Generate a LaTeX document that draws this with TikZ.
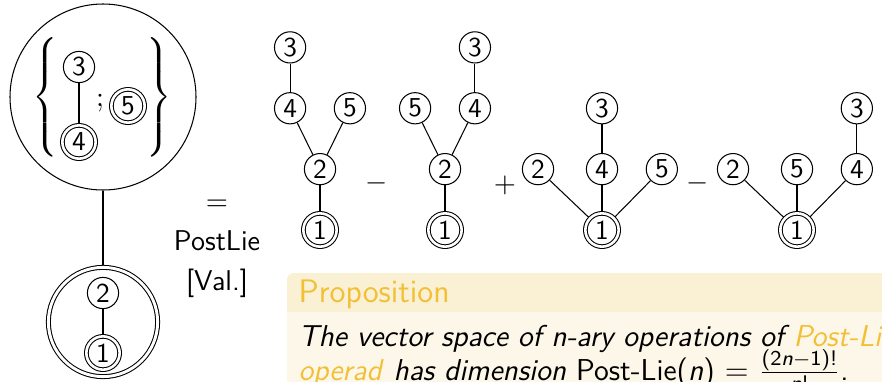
\documentclass[tikz,border=0pt]{standalone}
\usepackage{amsmath}
\usepackage{tikz}
\usetikzlibrary{positioning,backgrounds}
\renewcommand{\familydefault}{\sfdefault}
\definecolor{blocktitle}{RGB}{242,192,54}
\definecolor{blocktitlebg}{RGB}{250,240,212}
\definecolor{blockbodybg}{RGB}{253,247,234}

\begin{document}
\begin{tikzpicture}[
    x=0.3844pt, y=-0.3844pt,
    font=\fontsize{11}{13.5}\selectfont,
    node distance=23.4pt and 11.5pt, on grid,
    vtx/.style={circle, draw, inner sep=0pt, minimum size=12pt, font=\fontsize{10.5}{12}\selectfont},
    rootvtx/.style={vtx, double, double distance=1pt, minimum size=12.8pt}
]
\useasboundingbox (0,0) rectangle (882,381);
\clip (0,0) rectangle (882,381);

% grafted element on the left
\node[circle, draw, minimum size=71.5pt] (grp) at (103,97) {};
\node (lbr) at (47,97) {$\left\{\vrule height 26.5pt depth 20.7pt width 0pt\right.$};
\node (rbr) at (158,97) {$\left.\vrule height 26.5pt depth 20.7pt width 0pt\right\}$};
\node[vtx] (g3) at (79,67) {3};
\node[rootvtx] (g4) at (79,142) {4};
\node (semi) at (100,103) {$;$};
\node[rootvtx] (g5) at (128,106) {5};
\node[circle, draw, double, double distance=1.1pt, minimum size=42pt] (low) at (103,322) {};
\node[vtx] (l2) at (103,293) {2};
\node[rootvtx] (l1) at (103,353) {1};

\node[align=center, font=\fontsize{11}{15.4}\selectfont] (lbl) at (217,249) {$=$\\PostLie\\{[}Val.{]}};

% first tree
\node[rootvtx] (a1) at (320,230) {1};
\node[vtx, above=of a1] (a2) {2};
\node[vtx, above left=of a2] (a4) {4};
\node[vtx, above right=of a2] (a5) {5};
\node[vtx, above=of a4] (a3) {3};
\node (minusa) at (377,183) {$-$};

% second tree
\node[rootvtx] (b1) at (445,230) {1};
\node[vtx, above=of b1] (b2) {2};
\node[vtx, above left=of b2] (b5) {5};
\node[vtx, above right=of b2] (b4) {4};
\node[vtx, above=of b4] (b3) {3};
\node (plusa) at (505,185) {$+$};

% third tree
\node[rootvtx] (c1) at (602,230) {1};
\node[vtx, above=of c1] (c4) {4};
\node[vtx, above=of c4] (c3) {3};
\node[vtx, above left=23.4pt and 24.6pt of c1] (c2) {2};
\node[vtx, above right=23.4pt and 23pt of c1] (c5) {5};
\node (minusb) at (698,183) {$-$};

% fourth tree
\node[rootvtx] (d1) at (797,230) {1};
\node[vtx, above=of d1] (d5) {5};
\node[vtx, above left=23.4pt and 24.6pt of d1] (d2) {2};
\node[vtx, above right=23.4pt and 23pt of d1] (d4) {4};
\node[vtx, above=of d4] (d3) {3};

\begin{scope}[on background layer]
\foreach \u/\v in {grp/low, g3/g4, l2/l1, a1/a2, a2/a4, a2/a5, a4/a3,
                   b1/b2, b2/b5, b2/b4, b4/b3, c1/c2, c1/c4, c1/c5, c4/c3,
                   d1/d2, d1/d5, d1/d4, d4/d3}
  \draw (\u) -- (\v);
\end{scope}

% proposition block
\fill[blocktitlebg, rounded corners=2.5pt] (287,273) rectangle (900,330);
\fill[blockbodybg] (287,312) rectangle (900,400);
\node[anchor=base west, inner sep=0pt, text=blocktitle, font=\fontsize{12.5}{15}\selectfont] (ptitle) at (298,302) {Proposition};
\node[anchor=base west, inner sep=0pt, font=\fontsize{11.6}{14}\selectfont\itshape] (pline1) at (298,346) {The vector space of n-ary operations of \textcolor{blocktitle}{Post-Lie}};
\node[anchor=base west, inner sep=0pt, font=\fontsize{11.6}{14}\selectfont] (pline2) at (298,380) {\textcolor{blocktitle}{\textit{operad}} \textit{has dimension} Post-Lie(\textit{n}) $=$ $\frac{\textsf{(2\textit{n}}-\textsf{1)!}}{\textsf{\textit{n}!}}$.};
\end{tikzpicture}
\end{document}
